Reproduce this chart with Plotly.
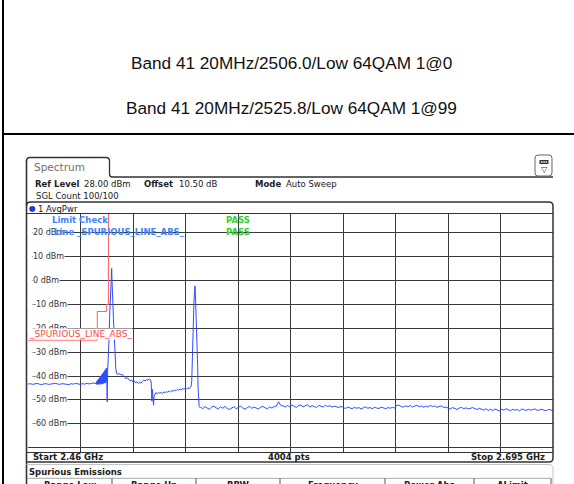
import numpy as np
import plotly.graph_objects as go

W, H = 574, 484

# ---------------- data ----------------
# sweep segments: (start MHz, stop MHz) and levels in dBm
seg_a_range = (2460.0, 2490.5)
seg_a_dbm = [-43.4, -43.2, -43.5, -43.3, -43.1, -43.4, -43.6, -43.3, -43.2, -43.5,
             -43.3, -43.4, -43.1, -43.3, -43.5, -43.2, -43.4, -43.3, -43.6, -43.2,
             -43.4, -43.1, -43.3, -43.5, -43.2, -43.4, -43.0, -43.3, -43.1, -42.9, -43.2]

dense_range = (2490.6, 2495.3)
dense_dbm = [-43.2, -42.4, -43.5, -42.0, -43.3, -41.8, -43.6, -41.5, -43.1, -41.2,
             -43.4, -40.9, -43.0, -40.6, -43.5, -40.2, -42.9, -40.0, -43.3, -39.6,
             -42.8, -39.3, -43.4, -39.0, -42.6, -38.7, -43.1, -38.4, -42.5, -38.0,
             -43.0, -37.7, -42.2, -37.4, -42.8, -37.0, -41.9, -36.6, -42.4]

peak1_mhz = [2495.38, 2495.45, 2495.55, 2495.68, 2495.8, 2495.92, 2496.1, 2496.3, 2496.5,
             2496.7, 2496.9, 2497.1, 2497.3, 2497.46, 2497.6, 2497.75, 2497.9, 2498.0,
             2498.1, 2498.25, 2498.45, 2498.65, 2498.85, 2499.0, 2499.3, 2499.7]
peak1_dbm = [-43.0, -50.8, -44.5, -37.5, -35.5, -35.0, -31.0, -24.0, -16.0,
             -10.0, -5.0, -1.0, 2.0, 5.0, 0.0, -6.0, -10.0, -8.0,
             -13.0, -16.0, -20.0, -24.0, -29.0, -33.0, -37.0, -39.0]

chan1_range = (2500.2, 2514.9)
chan1_dbm = [-39.3, -38.9, -39.6, -39.2, -40.0, -40.6, -41.2, -40.7, -41.5, -42.0,
             -41.6, -42.5, -42.0, -42.9, -42.4, -43.1, -42.6, -43.0, -42.2, -41.7,
             -42.1, -41.4, -41.8, -41.2, -41.6]

dip_mhz = [2515.1, 2515.3, 2515.45, 2515.6, 2515.8, 2516.0, 2516.2, 2516.4, 2516.7, 2516.95]
dip_dbm = [-42.5, -46.0, -50.5, -45.5, -47.5, -51.2, -52.2, -48.5, -47.6, -47.2]

mid_range = (2517.2, 2532.8)
mid_dbm = [-47.0, -47.4, -46.8, -47.2, -46.9, -47.3, -46.6, -47.0, -46.5, -46.8,
           -46.2, -46.6, -46.1, -46.4, -45.8, -46.2, -45.6, -46.0, -45.4, -45.8,
           -45.2, -45.6, -45.0, -45.5, -44.9, -45.3, -44.7]

peak2_mhz = [2533.05, 2533.3, 2533.5, 2533.75, 2534.0, 2534.25, 2534.45, 2534.6, 2534.75,
             2534.9, 2535.05, 2535.2, 2535.35, 2535.5, 2535.7, 2535.95, 2536.15, 2536.35,
             2536.6, 2536.9]
peak2_dbm = [-44.2, -42.0, -33.0, -25.0, -16.0, -10.0, -6.0, -4.0, -2.3,
             -5.0, -9.0, -7.0, -14.0, -22.0, -29.0, -36.0, -45.0, -50.0,
             -52.8, -53.2]

floor_range = (2537.2, 2695.0)
floor_dbm = [-53.1, -53.6, -52.8, -53.4, -53.9, -53.0, -52.6, -53.3, -53.8, -52.9,
             -53.5, -52.7, -53.6, -54.0, -53.2, -52.8, -53.7, -53.1, -52.6, -53.4,
             -53.9, -53.2, -52.7, -53.5, -53.0, -53.4, -53.8, -53.1, -52.7, -53.3,
             -53.7, -52.9, -53.4, -52.8, -52.6, -50.8, -52.3,
             -52.5, -53.0, -52.3, -52.9, -52.1, -52.8, -53.2, -52.4, -52.2, -52.9,
             -52.6, -52.0, -53.0, -52.4, -52.8, -53.2, -52.3, -52.6, -53.0, -52.2,
             -52.8, -52.4, -53.0, -52.6, -52.9, -53.2, -52.7,
             -53.3, -53.6, -53.0, -53.4, -53.7, -53.1, -53.5, -53.2, -53.8, -53.3,
             -52.9, -53.5, -53.2, -53.7, -53.1, -53.4, -53.6, -53.0, -53.4, -53.7,
             -53.2, -53.5, -53.1, -53.4, -52.3,
             -52.2, -52.8, -53.0, -52.4, -52.9, -52.3, -53.0, -52.6, -52.2, -52.9,
             -52.5, -53.1, -52.6, -53.0, -52.3, -52.8, -52.5, -53.1, -52.8, -52.5,
             -53.2, -53.0,
             -53.4, -53.8, -53.2, -53.6, -54.0, -53.4, -53.1, -53.7, -53.3, -53.8,
             -53.4, -53.2, -53.7, -54.0, -53.5,
             -53.9, -54.3, -53.7, -54.4, -53.9, -54.5, -53.8, -54.1, -54.6, -53.9,
             -54.3, -53.7, -54.2, -54.5, -53.9, -54.3, -54.0, -54.6, -53.8, -54.2,
             -54.4, -53.9, -54.3, -54.0, -53.8, -54.4, -54.1, -53.9, -54.3, -54.5,
             -54.0, -54.2, -54.4]

limit_mhz = [2460.0, 2491.0, 2491.0, 2495.2, 2495.2, 2496.0, 2496.0]
limit_dbm = [-25.0, -25.0, -13.0, -13.0, -10.0, -10.0, 40.0]

y_tick_vals = [20, 10, 0, -10, -20, -30, -40, -50, -60]
y_tick_text = ["20 dBm", "10 dBm", "0 dBm", "-10 dBm", "-20 dBm", "-30 dBm",
               "-40 dBm", "-50 dBm", "-60 dBm"]

titles = ["Band 41 20MHz/2506.0/Low 64QAM 1@0", "Band 41 20MHz/2525.8/Low 64QAM 1@99"]
table_cols = ["Range Low", "Range Up", "RBW", "Frequency", "Power Abs", "\u0394Limit"]

x_start, x_stop = 2460.0, 2695.0
ref_level, y_bottom = 28.0, -72.0

# ---------------- assemble trace ----------------
def seg(rng, vals):
    return list(np.linspace(rng[0], rng[1], len(vals))), list(vals)

fx, fy = [], []
for part in [seg(seg_a_range, seg_a_dbm), seg(dense_range, dense_dbm),
             (peak1_mhz, peak1_dbm), seg(chan1_range, chan1_dbm),
             (dip_mhz, dip_dbm), seg(mid_range, mid_dbm),
             (peak2_mhz, peak2_dbm), seg(floor_range, floor_dbm)]:
    fx += list(part[0])
    fy += list(part[1])

# ---------------- helpers (pixel -> paper) ----------------
def X(x):
    return x / W

def Y(y):
    return 1 - y / H

PLOT_TOP, PLOT_BOT = 213.5, 452.5

def ypix(v):
    return PLOT_TOP + (ref_level - v) / (ref_level - y_bottom) * (PLOT_BOT - PLOT_TOP)

shapes = []
annotations = []

def line(x0, y0, x1, y1, color="#333333", width=1.0):
    shapes.append(dict(type="line", xref="paper", yref="paper",
                       x0=X(x0), y0=Y(y0), x1=X(x1), y1=Y(y1),
                       line=dict(color=color, width=width)))

def path(cmds, color="#333333", width=1.0, fill=None):
    s = ""
    for c in cmds:
        s += c[0] + " "
        nums = c[1:]
        pts = []
        for i in range(0, len(nums), 2):
            pts.append(f"{X(nums[i]):.5f},{Y(nums[i+1]):.5f}")
        s += " ".join(pts) + " "
    d = dict(type="path", xref="paper", yref="paper", path=s.strip(),
             line=dict(color=color, width=width))
    if fill:
        d["fillcolor"] = fill
    shapes.append(d)

def rect(x0, y0, x1, y1, fill, color=None, width=0, layer="above"):
    shapes.append(dict(type="rect", xref="paper", yref="paper", layer=layer,
                       x0=X(x0), y0=Y(y0), x1=X(x1), y1=Y(y1), fillcolor=fill,
                       line=dict(color=color or fill, width=width)))

def txt(x, y, s, size=8.5, color="#202020", xanchor="left", yanchor="middle",
        family="DejaVu Sans", bg=None, yref="paper", height=None):
    a = dict(x=X(x), y=(Y(y) if yref == "paper" else y), xref="paper", yref=yref,
             text=s, showarrow=False, xanchor=xanchor, yanchor=yanchor,
             font=dict(family=family, size=size, color=color), borderpad=0)
    if bg:
        a["bgcolor"] = bg
    if height:
        a["height"] = height
        a["valign"] = "middle"
    annotations.append(a)

# ---------------- outer document frame & titles ----------------
line(3, 0, 3, 484, "#000000", 2)
line(3, 134, 574, 134, "#000000", 2)
txt(291.5, 63, titles[0], size=17.2, color="#111111", xanchor="center",
    family="Liberation Sans, Arial")
txt(291.5, 108, titles[1], size=17.2, color="#111111", xanchor="center",
    family="Liberation Sans, Arial")

# ---------------- instrument screen chrome ----------------
line(26.5, 160, 26.5, 484, "#333333", 1.6)
path([("M", 26.5, 161), ("Q", 26.5, 157.5, 30, 157.5), ("L", 106, 157.5),
      ("Q", 109.5, 157.5, 109.5, 161), ("L", 109.5, 174),
      ("Q", 109.5, 177, 112.5, 177), ("L", 553, 177)], "#333333", 1.3)
txt(33, 167, "Spectrum", size=10.5, color="#707070")

# settings icon
path([("M", 535, 158), ("Q", 535, 155, 538, 155), ("L", 549, 155), ("Q", 552, 155, 552, 158),
      ("L", 552, 173), ("Q", 552, 176, 549, 176), ("L", 538, 176), ("Q", 535, 176, 535, 173),
      ("Z",)], "#666666", 1, fill="#ffffff")
rect(539.5, 160, 548.5, 164, "#333333")
rect(541, 161.3, 542.5, 162.7, "#ffffff")
rect(543.3, 161.3, 544.8, 162.7, "#ffffff")
rect(545.6, 161.3, 547.1, 162.7, "#ffffff")
txt(544, 169.5, "\u25bd", size=8, color="#333333", xanchor="center")

# header texts
txt(34.3, 184.3, "<b>Ref Level</b>")
txt(83.3, 184.3, "28.00 dBm")
txt(143.3, 184.3, "<b>Offset</b>")
txt(177.7, 184.3, "10.50 dB")
txt(254, 184.3, "<b>Mode</b>")
txt(285, 184.3, "Auto Sweep")
txt(35, 195.7, "SGL Count 100/100")

# plot panel frame
path([("M", 26.5, 206), ("Q", 26.5, 202, 30.5, 202), ("L", 549, 202),
      ("Q", 553, 202, 553, 206), ("L", 553, 458), ("Q", 553, 462, 549, 462),
      ("L", 26.5, 462)], "#333333", 1.5)
line(26.5, PLOT_TOP, 553, PLOT_TOP, "#333333", 1.2)
line(26.5, PLOT_BOT, 553, PLOT_BOT, "#333333", 1.2)
shapes.append(dict(type="circle", xref="paper", yref="paper",
                   x0=X(29.6), y0=Y(206.2), x1=X(35.0), y1=Y(211.6),
                   fillcolor="#1d3cff", line=dict(color="#10208a", width=0.6)))
txt(36.6, 208.6, "1 AvgPwr")

# keep the grid lines clear left of the level labels
for v in y_tick_vals:
    rect(27.6, ypix(v) - 1.2, 32.2, ypix(v) + 1.2, "#ffffff")

# bottom bar
txt(31.7, 457.3, "<b>Start 2.46 GHz</b>")
txt(289, 457.3, "<b>4004 pts</b>", xanchor="center")
txt(545.5, 457.3, "<b>Stop 2.695 GHz</b>", xanchor="right")

# spurious emissions table
path([("M", 26.5, 464.5), ("L", 549, 464.5), ("Q", 553, 464.5, 553, 468.5),
      ("L", 553, 484)], "#c4c4c4", 1)
txt(27.5, 471.6, "<b>Spurious Emissions</b>")
line(27, 478.3, 551, 478.3, "#a8a8a8", 1)
for sx in [112, 196, 280, 385, 474, 551]:
    line(sx, 478.3, sx, 484, "#555555", 1)
col_centers = [69.5, 154, 238, 332.5, 429.5, 512.5]
for cx, name in zip(col_centers, table_cols):
    txt(cx, 484.8, f"<b>{name}</b>", xanchor="center")

# ---------------- y labels inside the grid ----------------
for v, t in zip(y_tick_vals, y_tick_text):
    txt(32, v, t, size=8, color="#333333", bg="#ffffff", yref="y")

# limit check texts
blue = "#3d82ff"
green = "#2fcf2f"
txt(50.7, 220.2, "<b>Limit Check</b>", color=blue)
txt(53.3, 232.3, "<b>Line _SPURIOUS_LINE_ABS_</b>", color=blue)
txt(225, 220.2, "<b>PASS</b>", color=green)
txt(225, 232.3, "<b>PASS</b>", color=green)

# limit line label
txt(28, 328.4, "_SPURIOUS_LINE_ABS_", size=9, color="#ff4a4a", bg="#ffffff",
    yanchor="top", height=10.4)

# ---------------- figure ----------------
fig = go.Figure()
fig.add_trace(go.Scatter(x=limit_mhz, y=limit_dbm, mode="lines",
                         line=dict(color="#ff5f5f", width=1), hoverinfo="skip"))
fig.add_trace(go.Scatter(x=fx, y=fy, mode="lines",
                         line=dict(color="#2f4cff", width=1), hoverinfo="skip"))

fig.update_layout(
    width=W, height=H, margin=dict(l=0, r=0, t=0, b=0),
    paper_bgcolor="#ffffff", plot_bgcolor="#ffffff", showlegend=False,
    font=dict(family="DejaVu Sans", size=8.5, color="#202020"),
    xaxis=dict(domain=[X(28), X(553)], range=[x_start, x_stop], tickmode="linear",
               tick0=x_start, dtick=(x_stop - x_start) / 10, showticklabels=False,
               ticks="", showgrid=True, gridcolor="#3a3a3a", gridwidth=1,
               zeroline=False, showline=False, fixedrange=True),
    yaxis=dict(domain=[Y(PLOT_BOT), Y(PLOT_TOP)], range=[y_bottom, ref_level],
               tickmode="linear", tick0=-70, dtick=10, showticklabels=False, ticks="",
               showgrid=True, gridcolor="#3a3a3a", gridwidth=1, zeroline=False,
               showline=False, fixedrange=True),
    shapes=shapes, annotations=annotations,
)

fig.write_html("out.html", config={"displayModeBar": False, "staticPlot": True},
               post_script="document.body.style.margin='0';document.body.style.overflow='hidden';")
